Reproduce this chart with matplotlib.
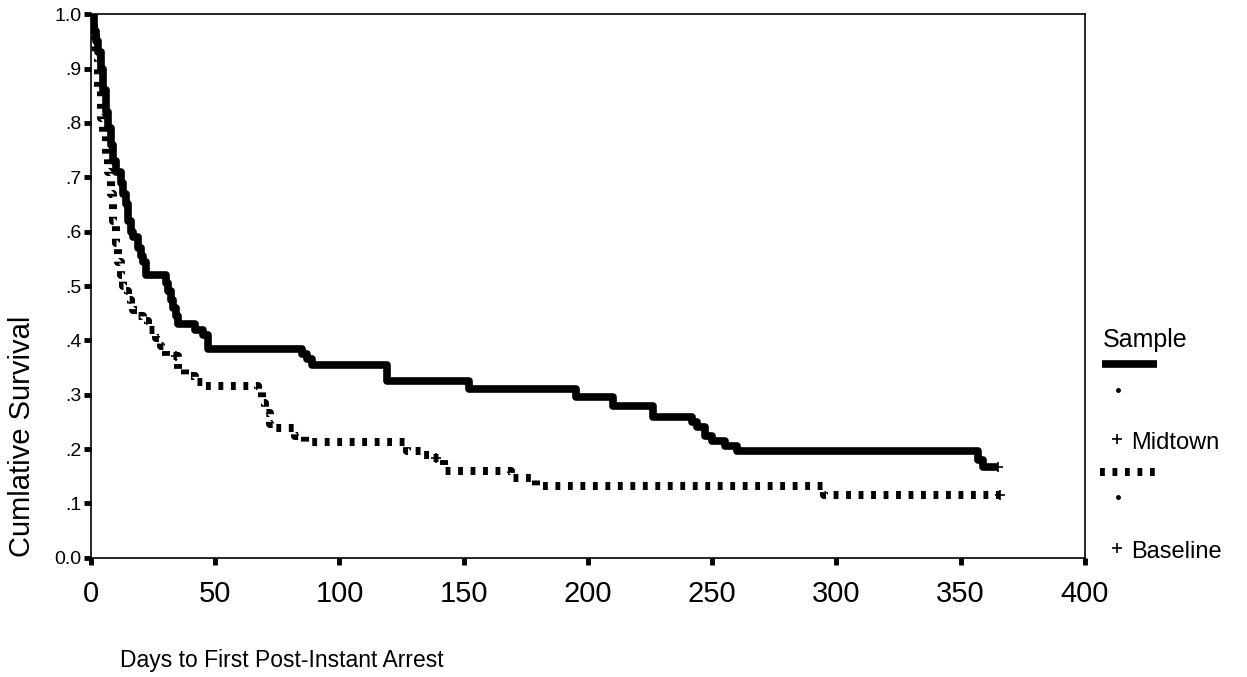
import matplotlib.pyplot as plt
import numpy as np

# Kaplan-Meier step values (day of step, survival after step)
mid_days = [0, 1, 2, 3, 4, 5, 6, 7, 8, 9, 10, 12, 13, 14, 15, 16, 17, 19, 20, 21, 22,
            30, 31, 32, 33, 34, 35, 42, 45, 47, 85, 87, 89, 119, 152, 195, 210, 226,
            242, 244, 247, 250, 255, 260, 357, 359, 365]
mid_surv = [1.0, 0.97, 0.95, 0.93, 0.90, 0.86, 0.82, 0.79, 0.76, 0.73, 0.71, 0.69, 0.67,
            0.65, 0.62, 0.60, 0.59, 0.57, 0.555, 0.545, 0.52, 0.505, 0.49, 0.475, 0.46,
            0.445, 0.43, 0.42, 0.41, 0.385, 0.375, 0.365, 0.355, 0.325, 0.31, 0.295,
            0.28, 0.26, 0.25, 0.24, 0.225, 0.215, 0.205, 0.196, 0.18, 0.168, 0.168]

base_days = [0, 1, 2, 3, 4, 5, 6, 7, 8, 9, 10, 11, 12, 13, 14, 15, 16, 17, 19, 21, 23,
             26, 28, 30, 35, 38, 42, 46, 67, 69, 70, 72, 74, 82, 86, 127, 133, 137, 142,
             169, 179, 295, 366]
base_surv = [1.0, 0.96, 0.92, 0.86, 0.81, 0.78, 0.74, 0.71, 0.67, 0.62, 0.58, 0.545, 0.52,
             0.50, 0.49, 0.475, 0.465, 0.455, 0.445, 0.435, 0.42, 0.405, 0.39, 0.372,
             0.348, 0.335, 0.324, 0.317, 0.305, 0.285, 0.266, 0.247, 0.238, 0.225, 0.214,
             0.196, 0.189, 0.183, 0.159, 0.147, 0.132, 0.116, 0.116]

# censored cases
mid_cens_x = [365]
mid_cens_y = [0.168]
base_cens_x = [34, 139, 366]
base_cens_y = [0.372, 0.183, 0.116]

x_ticks = [0, 50, 100, 150, 200, 250, 300, 350, 400]
y_ticks = [0.0, 0.1, 0.2, 0.3, 0.4, 0.5, 0.6, 0.7, 0.8, 0.9, 1.0]
y_tick_labels = ['0.0', '.1', '.2', '.3', '.4', '.5', '.6', '.7', '.8', '.9', '1.0']

plain = ['Liberation Sans', 'DejaVu Sans']
dots = (0, (0.6, 0.95))

fig = plt.figure(figsize=(12.47, 6.77), dpi=100)
ax = fig.add_axes([0.073, 0.176, 0.797, 0.803])

ax.step(mid_days, mid_surv, where='post', color='black', lw=5.5, solid_capstyle='butt')
ax.step(base_days, base_surv, where='post', color='black', lw=5.8,
        linestyle=dots, dash_capstyle='butt')
ax.plot(mid_cens_x, mid_cens_y, '+', color='black', ms=7, mew=1.2)
ax.plot(base_cens_x, base_cens_y, '+', color='black', ms=7, mew=1.2)

ax.set_xlim(0, 400)
ax.set_ylim(0, 1.0)
ax.set_xticks(x_ticks)
ax.set_yticks(y_ticks)
ax.set_yticklabels(y_tick_labels, family=plain, fontsize=14)
ax.set_xticklabels([str(t) for t in x_ticks], family=plain, fontsize=21)
ax.tick_params(axis='both', direction='out', length=5, width=3.5, color='black')
ax.tick_params(axis='x', pad=11)
ax.tick_params(axis='y', pad=2)
for s in ax.spines.values():
    s.set_linewidth(1.2)

fig.text(0.018, 0.356, 'Cumlative Survival', rotation=90, ha='center', va='center',
         family=plain, fontsize=21)
fig.text(0.096, 0.025, 'Days to First Post-Instant Arrest', ha='left', va='center',
         family=plain, fontsize=16.5)

# legend block drawn by hand
W, H = 1247.0, 677.0
def fx(px):
    return px / W
def fy(py):
    return 1 - py / H

fig.text(fx(1103), fy(340), 'Sample', ha='left', va='center', family=plain, fontsize=18)
fig.add_artist(plt.Line2D([fx(1102), fx(1157)], [fy(364), fy(364)], color='black',
                          lw=5.5, solid_capstyle='butt'))
fig.add_artist(plt.Line2D([fx(1118)], [fy(390)], marker='o', ms=2.5, color='black'))
fig.add_artist(plt.Line2D([fx(1117)], [fy(439)], marker='+', ms=7, mew=1.2, color='black'))
fig.text(fx(1131), fy(443), 'Midtown', ha='left', va='center', family=plain, fontsize=17)

fig.add_artist(plt.Line2D([fx(1100), fx(1155)], [fy(472), fy(472)], color='black',
                          lw=5.8, linestyle=dots, dash_capstyle='butt'))
fig.add_artist(plt.Line2D([fx(1118)], [fy(497)], marker='o', ms=2.5, color='black'))
fig.add_artist(plt.Line2D([fx(1117)], [fy(548)], marker='+', ms=7, mew=1.2, color='black'))
fig.text(fx(1131), fy(552), 'Baseline', ha='left', va='center', family=plain, fontsize=17)

fig.savefig('out.png', dpi=100, facecolor='white')
